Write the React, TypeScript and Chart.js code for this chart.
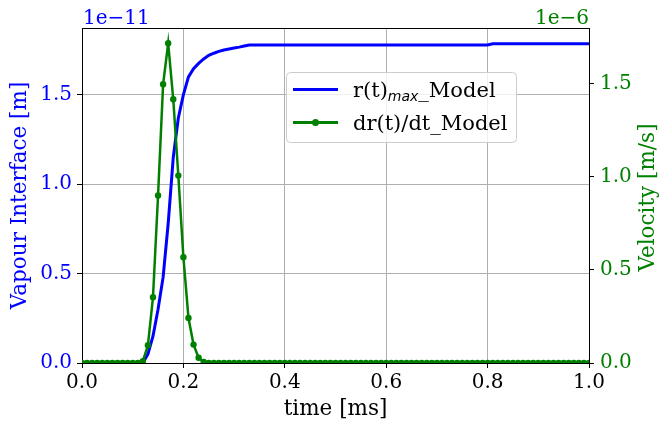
import React, { useEffect, useRef } from "react";
import { Chart, registerables } from "chart.js";

Chart.register(...registerables);

// time [ms]
const timeMs = [
  0.0, 0.01, 0.02, 0.03, 0.04, 0.05, 0.06, 0.07, 0.08, 0.09,
  0.1, 0.11, 0.12, 0.13, 0.14, 0.15, 0.16, 0.17, 0.18, 0.19,
  0.2, 0.21, 0.22, 0.23, 0.24, 0.25, 0.26, 0.27, 0.28, 0.29,
  0.3, 0.31, 0.32, 0.33, 0.34, 0.35, 0.36, 0.37, 0.38, 0.39,
  0.4, 0.41, 0.42, 0.43, 0.44, 0.45, 0.46, 0.47, 0.48, 0.49,
  0.5, 0.51, 0.52, 0.53, 0.54, 0.55, 0.56, 0.57, 0.58, 0.59,
  0.6, 0.61, 0.62, 0.63, 0.64, 0.65, 0.66, 0.67, 0.68, 0.69,
  0.7, 0.71, 0.72, 0.73, 0.74, 0.75, 0.76, 0.77, 0.78, 0.79,
  0.8, 0.81, 0.82, 0.83, 0.84, 0.85, 0.86, 0.87, 0.88, 0.89,
  0.9, 0.91, 0.92, 0.93, 0.94, 0.95, 0.96, 0.97, 0.98, 0.99,
  1.0,
];

// r(t)_max in units of 1e-11 m
const radiusE11 = [
  0, 0, 0, 0, 0, 0, 0, 0, 0, 0,
  0, 0, 0, 0.05, 0.15, 0.3, 0.48, 0.78, 1.15, 1.37,
  1.5, 1.6, 1.645, 1.675, 1.7, 1.72, 1.732, 1.742, 1.75, 1.756,
  1.761, 1.766, 1.772, 1.778, 1.778, 1.778, 1.778, 1.778, 1.778, 1.778,
  1.778, 1.778, 1.778, 1.778, 1.778, 1.778, 1.778, 1.778, 1.778, 1.778,
  1.778, 1.778, 1.778, 1.778, 1.778, 1.778, 1.778, 1.778, 1.778, 1.778,
  1.778, 1.778, 1.778, 1.778, 1.778, 1.778, 1.778, 1.778, 1.778, 1.778,
  1.778, 1.778, 1.778, 1.778, 1.778, 1.778, 1.778, 1.778, 1.778, 1.778,
  1.778, 1.785, 1.785, 1.785, 1.785, 1.785, 1.785, 1.785, 1.785, 1.785,
  1.785, 1.785, 1.785, 1.785, 1.785, 1.785, 1.785, 1.785, 1.785, 1.785,
  1.785,
];

// dr(t)/dt in units of 1e-6 m/s
const velocityE6 = [
  0, 0, 0, 0, 0, 0, 0, 0, 0, 0,
  0, 0, 0.01, 0.095, 0.353, 0.9, 1.498, 1.718, 1.417, 1.007,
  0.568, 0.242, 0.099, 0.028, 0.005, 0, 0, 0, 0, 0,
  0, 0, 0, 0, 0, 0, 0, 0, 0, 0,
  0, 0, 0, 0, 0, 0, 0, 0, 0, 0,
  0, 0, 0, 0, 0, 0, 0, 0, 0, 0,
  0, 0, 0, 0, 0, 0, 0, 0, 0, 0,
  0, 0, 0, 0, 0, 0, 0, 0, 0, 0,
  0, 0, 0, 0, 0, 0, 0, 0, 0, 0,
  0, 0, 0, 0, 0, 0, 0, 0, 0, 0,
  0,
];

const xTicks = [0, 0.2, 0.4, 0.6, 0.8, 1.0];
const leftTicks = [0, 0.5, 1.0, 1.5];
const rightTicks = [0, 0.5, 1.0, 1.5];

const FONT = "'DejaVu Serif', serif";
const BLUE = "#0000ff";
const GREEN = "#008000";

const overlay = {
  id: "overlay",
  afterDraw(chart: any) {
    const ctx = chart.ctx as CanvasRenderingContext2D;
    const a = chart.chartArea;
    ctx.save();
    // top spine
    ctx.strokeStyle = "#000";
    ctx.lineWidth = 1;
    ctx.beginPath();
    ctx.moveTo(a.left, a.top + 0.5);
    ctx.lineTo(a.right, a.top + 0.5);
    ctx.stroke();

    // exponent labels
    ctx.font = `20px ${FONT}`;
    ctx.textBaseline = "alphabetic";
    ctx.fillStyle = BLUE;
    ctx.textAlign = "left";
    ctx.fillText("1e\u221211", a.left + 1, 24);
    ctx.fillStyle = GREEN;
    ctx.textAlign = "right";
    ctx.fillText("1e\u22126", a.right, 24);

    // axis titles
    ctx.font = `21.5px ${FONT}`;
    ctx.textAlign = "center";
    ctx.textBaseline = "middle";
    ctx.fillStyle = "#000";
    ctx.fillText("time [ms]", (a.left + a.right) / 2, 409);
    ctx.save();
    ctx.translate(20, (a.top + a.bottom) / 2);
    ctx.rotate(-Math.PI / 2);
    ctx.fillStyle = BLUE;
    ctx.fillText("Vapour Interface [m]", 0, 0);
    ctx.restore();
    ctx.save();
    ctx.translate(648, (a.top + a.bottom) / 2 + 2);
    ctx.rotate(-Math.PI / 2);
    ctx.fillStyle = GREEN;
    ctx.fillText("Velocity [m/s]", 0, 0);
    ctx.restore();

    // legend
    const bx = 286.5, by = 72.5, bw = 230, bh = 70, r = 4;
    ctx.beginPath();
    ctx.moveTo(bx + r, by);
    ctx.lineTo(bx + bw - r, by);
    ctx.quadraticCurveTo(bx + bw, by, bx + bw, by + r);
    ctx.lineTo(bx + bw, by + bh - r);
    ctx.quadraticCurveTo(bx + bw, by + bh, bx + bw - r, by + bh);
    ctx.lineTo(bx + r, by + bh);
    ctx.quadraticCurveTo(bx, by + bh, bx, by + bh - r);
    ctx.lineTo(bx, by + r);
    ctx.quadraticCurveTo(bx, by, bx + r, by);
    ctx.closePath();
    ctx.fillStyle = "rgba(255,255,255,0.8)";
    ctx.fill();
    ctx.strokeStyle = "#cccccc";
    ctx.lineWidth = 1;
    ctx.stroke();

    const y1 = 89.5, y2 = 122.5;
    ctx.lineWidth = 3;
    ctx.strokeStyle = BLUE;
    ctx.beginPath();
    ctx.moveTo(293, y1);
    ctx.lineTo(338, y1);
    ctx.stroke();
    ctx.strokeStyle = GREEN;
    ctx.beginPath();
    ctx.moveTo(293, y2);
    ctx.lineTo(338, y2);
    ctx.stroke();
    ctx.fillStyle = GREEN;
    ctx.beginPath();
    ctx.arc(315.5, y2, 3.5, 0, Math.PI * 2);
    ctx.fill();

    ctx.fillStyle = "#000";
    ctx.textAlign = "left";
    ctx.textBaseline = "alphabetic";
    ctx.font = `21px ${FONT}`;
    let tx = 353;
    const base1 = y1 + 7;
    ctx.fillText("r(t)", tx, base1);
    tx += ctx.measureText("r(t)").width;
    ctx.font = `italic 14px 'DejaVu Sans', sans-serif`;
    ctx.fillText("max", tx, base1 + 4);
    tx += ctx.measureText("max").width;
    ctx.font = `21px ${FONT}`;
    ctx.fillText("_Model", tx, base1);
    ctx.fillText("dr(t)/dt_Model", 353, y2 + 7);
    ctx.restore();
  },
};

export default function App() {
  const ref = useRef<HTMLCanvasElement | null>(null);
  useEffect(() => {
    if (!ref.current) return;
    const tickFont = { family: FONT, size: 20 };
    const chart = new Chart(ref.current, {
      type: "line",
      data: {
        datasets: [
          {
            label: "dr(t)/dt_Model",
            data: timeMs.map((t, i) => ({ x: t, y: velocityE6[i] })),
            yAxisID: "y2",
            borderColor: GREEN,
            backgroundColor: GREEN,
            borderWidth: 2.5,
            pointRadius: 3.2,
            pointBorderWidth: 0,
            pointBackgroundColor: GREEN,
            tension: 0,
            clip: 0,
            order: 0,
          },
          {
            label: "r(t)max_Model",
            data: timeMs.map((t, i) => ({ x: t, y: radiusE11[i] })),
            yAxisID: "y",
            borderColor: BLUE,
            backgroundColor: BLUE,
            borderWidth: 3,
            pointRadius: 0,
            tension: 0,
            clip: 0,
            order: 1,
          },
        ],
      },
      options: {
        responsive: false,
        animation: false,
        events: [],
        layout: { padding: { top: 28, left: 0, right: 0, bottom: 0 } },
        plugins: { legend: { display: false }, tooltip: { enabled: false } },
        scales: {
          x: {
            type: "linear",
            position: "bottom",
            min: 0,
            max: 1,
            afterFit: (s: any) => { s.height = 62; },
            afterBuildTicks: (s: any) => { s.ticks = xTicks.map((v) => ({ value: v })); },
            ticks: {
              font: tickFont,
              color: "#000",
              padding: 3,
              maxRotation: 0,
              autoSkip: false,
              callback: (v: any) => Number(v).toFixed(1),
            },
            grid: { color: "#b0b0b0", lineWidth: 1, tickLength: 5, tickColor: "#000", tickWidth: 1 },
            border: { display: true, color: "#000", width: 1 },
          },
          y: {
            type: "linear",
            position: "left",
            min: 0,
            max: 1.873,
            afterFit: (s: any) => { s.width = 82; },
            afterBuildTicks: (s: any) => { s.ticks = leftTicks.map((v) => ({ value: v })); },
            ticks: {
              font: tickFont,
              color: BLUE,
              padding: 5,
              callback: (v: any) => Number(v).toFixed(1),
            },
            grid: { color: "#b0b0b0", lineWidth: 1, tickLength: 5, tickColor: "#000", tickWidth: 1 },
            border: { display: true, color: "#000", width: 1 },
          },
          y2: {
            type: "linear",
            position: "right",
            min: 0,
            max: 1.8,
            afterFit: (s: any) => { s.width = 70; },
            afterBuildTicks: (s: any) => { s.ticks = rightTicks.map((v) => ({ value: v })); },
            ticks: {
              font: tickFont,
              color: GREEN,
              padding: 6,
              callback: (v: any) => Number(v).toFixed(1),
            },
            grid: { drawOnChartArea: false, tickLength: 5, tickColor: "#000", tickWidth: 1 },
            border: { display: true, color: "#000", width: 1 },
          },
        },
      },
      plugins: [overlay],
    } as any);
    return () => chart.destroy();
  }, []);
  return (
    <div style={{ position: "fixed", left: 0, top: 0, width: 659, height: 425, background: "#fff" }}>
      <canvas ref={ref} width={659} height={425} style={{ display: "block" }} />
    </div>
  );
}
